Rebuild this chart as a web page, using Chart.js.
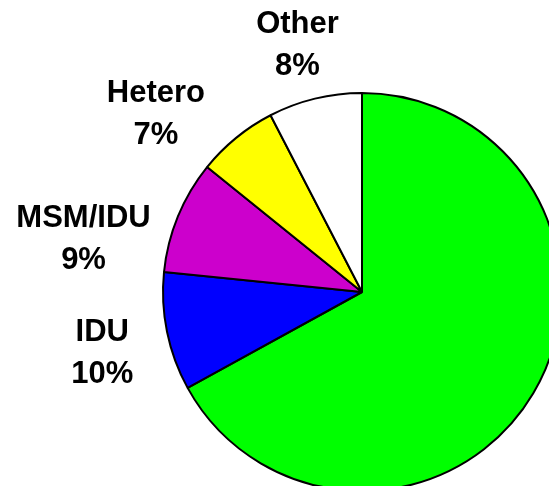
<!DOCTYPE html>
<html>
<head>
<meta charset="utf-8">
<script src="https://cdn.jsdelivr.net/npm/chart.js@4/dist/chart.umd.min.js"></script>
<style>
  html, body { margin: 0; padding: 0; background: #fff; overflow: hidden; }
  .wrap { position: relative; width: 549px; height: 486px; overflow: hidden; }
  #pie { position: absolute; left: 0; top: 0; }
</style>
</head>
<body>
<div class="wrap">
  <canvas id="pie" width="562" height="492"></canvas>
</div>
<script>
// --- data ---
const categories = ['MSM', 'IDU', 'MSM/IDU', 'Hetero', 'Other'];
const shares = [67.0, 9.6, 9.2, 6.6, 7.6];
const sliceColors = ['#00FF00', '#0000FF', '#CC00CC', '#FFFF00', '#FFFFFF'];

// where each label sits: angle (deg clockwise from top) and distance as a multiple of the radius
// the MSM label falls outside the picture, so it has none
const labelPlace = [null, [257.1, 1.339], [281.1, 1.426], [311.1, 1.374], [345.5, 1.295]];

const outsideLabels = {
  id: 'outsideLabels',
  afterDraw(chart) {
    const ctx = chart.ctx;
    const meta = chart.getDatasetMeta(0);
    const total = shares.reduce((a, b) => a + b, 0);
    ctx.save();
    ctx.fillStyle = '#000';
    ctx.font = 'bold 31px "Liberation Sans", Arial, sans-serif';
    ctx.textAlign = 'center';
    ctx.textBaseline = 'alphabetic';
    meta.data.forEach((arc, i) => {
      const place = labelPlace[i];
      if (!place) return;
      const a = (place[0] - 90) * Math.PI / 180;
      const cx = arc.x + Math.cos(a) * arc.outerRadius * place[1];
      const cy = arc.y + Math.sin(a) * arc.outerRadius * place[1];
      const pct = Math.round(shares[i] / total * 100) + '%';
      ctx.fillText(categories[i], cx, cy - 10);
      ctx.fillText(pct, cx, cy + 32);
    });
    ctx.restore();
  }
};

new Chart(document.getElementById('pie'), {
  type: 'pie',
  data: {
    labels: categories,
    datasets: [{
      data: shares,
      backgroundColor: sliceColors,
      borderColor: '#000',
      borderWidth: 2
    }]
  },
  options: {
    responsive: false,
    animation: false,
    layout: { padding: { left: 162, top: 92, right: 0, bottom: 0 } },
    plugins: {
      legend: { display: false },
      tooltip: { enabled: false }
    }
  },
  plugins: [outsideLabels]
});
</script>
</body>
</html>
